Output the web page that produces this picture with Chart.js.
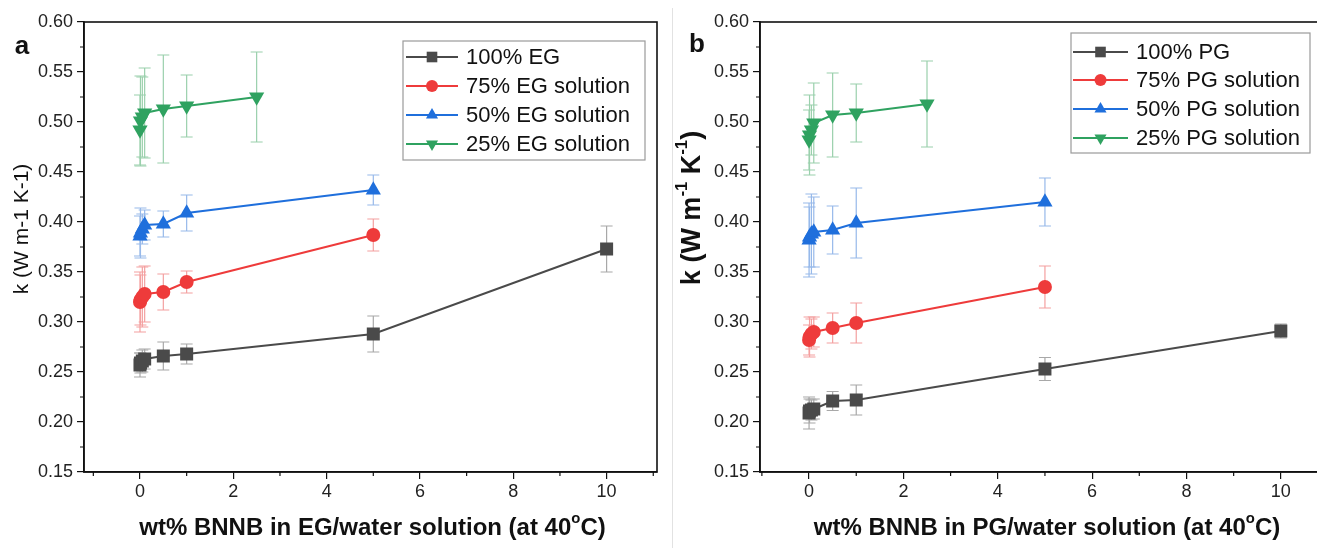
<!DOCTYPE html>
<html><head><meta charset="utf-8">
<script src="https://cdn.jsdelivr.net/npm/chart.js@4/dist/chart.umd.min.js"></script>
<style>
html,body{margin:0;padding:0;background:#fff;overflow:hidden;width:1317px;height:548px;}
#wa{position:absolute;left:0;top:0;width:672px;height:548px;}
#wb{position:absolute;left:672px;top:0;width:672px;height:548px;}
#sep{position:absolute;left:672px;top:8px;width:1px;height:540px;background:#e2e2e2;}
</style></head><body>
<div id="wa"><canvas id="ca" width="672" height="548"></canvas></div>
<div id="wb"><canvas id="cb" width="672" height="548"></canvas></div>
<div id="sep"></div>
<script>
// ---------- DATA ----------
const xTicks = [0, 2, 4, 6, 8, 10];
const yTicks = [0.15, 0.20, 0.25, 0.30, 0.35, 0.40, 0.45, 0.50, 0.55, 0.60];

// Panel a: EG
const xEG100 = [0, 0.01, 0.05, 0.1, 0.5, 1, 5, 10];
const kEG100 = [0.257, 0.259, 0.261, 0.263, 0.266, 0.268, 0.288, 0.373];
const eEG100 = [0.012, 0.010, 0.011, 0.010, 0.014, 0.010, 0.018, 0.023];
const xEG75 = [0, 0.01, 0.05, 0.1, 0.5, 1, 5];
const kEG75 = [0.320, 0.322, 0.325, 0.328, 0.330, 0.340, 0.387];
const eEG75 = [0.030, 0.025, 0.030, 0.028, 0.018, 0.011, 0.016];
const xEG50 = [0, 0.01, 0.05, 0.1, 0.5, 1, 5];
const kEG50 = [0.386, 0.389, 0.393, 0.397, 0.398, 0.409, 0.432];
const eEG50 = [0.020, 0.025, 0.015, 0.015, 0.013, 0.018, 0.015];
const xEG25 = [0, 0.01, 0.05, 0.1, 0.5, 1, 2.5];
const kEG25 = [0.492, 0.501, 0.505, 0.509, 0.513, 0.516, 0.525];
const eEG25 = [0.035, 0.045, 0.040, 0.045, 0.054, 0.031, 0.045];

// Panel b: PG
const xPG100 = [0, 0.01, 0.05, 0.1, 0.5, 1, 5, 10];
const kPG100 = [0.209, 0.211, 0.212, 0.213, 0.221, 0.222, 0.253, 0.291];
const ePG100 = [0.016, 0.012, 0.010, 0.010, 0.0095, 0.015, 0.0115, 0.007];
const xPG75 = [0, 0.01, 0.05, 0.1, 0.5, 1, 5];
const kPG75 = [0.282, 0.285, 0.288, 0.290, 0.294, 0.299, 0.335];
const ePG75 = [0.015, 0.020, 0.015, 0.015, 0.015, 0.020, 0.021];
const xPG50 = [0, 0.01, 0.05, 0.1, 0.5, 1, 5];
const kPG50 = [0.382, 0.385, 0.388, 0.390, 0.392, 0.399, 0.420];
const ePG50 = [0.037, 0.030, 0.040, 0.035, 0.024, 0.035, 0.024];
const xPG25 = [0, 0.01, 0.05, 0.1, 0.5, 1, 2.5];
const kPG25 = [0.482, 0.487, 0.492, 0.499, 0.507, 0.509, 0.518];
const ePG25 = [0.030, 0.040, 0.025, 0.040, 0.042, 0.029, 0.043];

const labelsEG = ['100% EG', '75% EG solution', '50% EG solution', '25% EG solution'];
const labelsPG = ['100% PG', '75% PG solution', '50% PG solution', '25% PG solution'];

// ---------- STYLE ----------
const FONT = '"Liberation Sans", Arial, Helvetica, sans-serif';
const styles = [
  {color:'#4a4a4a', err:'#a8a8a8', style:'rect', radius:9.2, rot:0, lr:7.5},
  {color:'#ee3b3b', err:'#f4a0a0', style:'circle', radius:7, rot:0, lr:6},
  {color:'#1f6fdc', err:'#97b9ea', style:'triangle', radius:8.8, rot:0, lr:7},
  {color:'#2fa260', err:'#9ad0ac', style:'triangle', radius:8.8, rot:180, lr:7}
];

function mkDatasets(xs, ks, es, labels) {
  return xs.map((xv, si) => ({
    label: labels[si],
    data: xv.map((x, i) => ({x: x, y: ks[si][i]})),
    errs: es[si],
    errColor: styles[si].err,
    showLine: true,
    borderColor: styles[si].color,
    backgroundColor: styles[si].color,
    borderWidth: 2,
    pointStyle: styles[si].style,
    pointRadius: styles[si].radius,
    pointHoverRadius: styles[si].radius,
    pointRotation: styles[si].rot,
    pointBorderWidth: 0,
    tension: 0
  }));
}

function drawSegs(ctx, segs, size, bold, cx, cy) {
  const f = (s) => (bold ? 'bold ' : '') + s + 'px ' + FONT;
  let w = 0;
  segs.forEach(s => { ctx.font = f(s.sup ? size * 0.62 : size); s.w = ctx.measureText(s.t).width; w += s.w; });
  let x = cx - w / 2;
  ctx.textBaseline = 'middle';
  ctx.textAlign = 'left';
  segs.forEach(s => {
    ctx.font = f(s.sup ? size * 0.62 : size);
    ctx.fillText(s.t, x, s.sup ? cy - size * 0.38 : cy);
    x += s.w;
  });
}

function makePanel(id, datasets, opt) {
  const deco = {
    id: 'deco',
    beforeDatasetsDraw(chart) {
      const ctx = chart.ctx, xs = chart.scales.x, ys = chart.scales.y;
      ctx.save();
      chart.data.datasets.forEach(ds => {
        ctx.strokeStyle = ds.errColor;
        ctx.lineWidth = 1.2;
        ds.data.forEach((p, i) => {
          const px = xs.getPixelForValue(p.x);
          const y1 = ys.getPixelForValue(p.y + ds.errs[i]);
          const y2 = ys.getPixelForValue(p.y - ds.errs[i]);
          ctx.beginPath();
          ctx.moveTo(px, y1); ctx.lineTo(px, y2);
          ctx.moveTo(px - 6, y1); ctx.lineTo(px + 6, y1);
          ctx.moveTo(px - 6, y2); ctx.lineTo(px + 6, y2);
          ctx.stroke();
        });
      });
      ctx.restore();
    },
    afterDraw(chart) {
      const ctx = chart.ctx, a = chart.chartArea, xs = chart.scales.x, ys = chart.scales.y;
      ctx.save();
      // frame
      ctx.strokeStyle = '#111';
      ctx.lineWidth = 1.6;
      ctx.strokeRect(a.left, a.top, a.right - a.left, a.bottom - a.top);
      // minor ticks
      ctx.lineWidth = 1.2;
      ctx.beginPath();
      for (let v = 0.175; v < 0.6; v += 0.05) {
        const py = ys.getPixelForValue(v);
        ctx.moveTo(a.left - 4, py); ctx.lineTo(a.left, py);
      }
      for (let v = -1; v <= 11; v += 2) {
        if (v < xs.min || v > xs.max) continue;
        const px = xs.getPixelForValue(v);
        ctx.moveTo(px, a.bottom); ctx.lineTo(px, a.bottom + 4);
      }
      ctx.stroke();
      // legend
      const L = opt.legend;
      ctx.fillStyle = '#fff';
      ctx.fillRect(L.x, L.y, L.w, L.h);
      ctx.strokeStyle = '#9a9a9a';
      ctx.lineWidth = 1.2;
      ctx.strokeRect(L.x, L.y, L.w, L.h);
      chart.data.datasets.forEach((ds, i) => {
        const cy = L.rows[i];
        ctx.strokeStyle = styles[i].color;
        ctx.lineWidth = 2;
        ctx.beginPath(); ctx.moveTo(L.lx0, cy); ctx.lineTo(L.lx1, cy); ctx.stroke();
        ctx.fillStyle = styles[i].color;
        Chart.helpers.drawPoint(ctx, {pointStyle: styles[i].style, rotation: styles[i].rot, radius: styles[i].lr, borderWidth: 0}, (L.lx0 + L.lx1) / 2, cy);
        ctx.fillStyle = '#111';
        ctx.font = '22px ' + FONT;
        ctx.textAlign = 'left';
        ctx.textBaseline = 'middle';
        ctx.fillText(ds.label, L.tx, cy + 1);
      });
      // panel letter
      ctx.fillStyle = '#111';
      ctx.font = 'bold 26px ' + FONT;
      ctx.textAlign = 'center';
      ctx.textBaseline = 'middle';
      ctx.fillText(opt.letter.t, opt.letter.x, opt.letter.y);
      // x title
      drawSegs(ctx, opt.xTitle, 24, true, (a.left + a.right) / 2 + opt.xTitleDx, 528);
      // y title
      ctx.save();
      ctx.translate(opt.yTitleX, opt.yTitleY);
      ctx.rotate(-Math.PI / 2);
      drawSegs(ctx, opt.yTitle, opt.yTitleSize, opt.yTitleBold, 0, 0);
      ctx.restore();
      ctx.restore();
    }
  };
  return new Chart(document.getElementById(id), {
    type: 'scatter',
    data: {datasets: datasets},
    plugins: [deco],
    options: {
      responsive: false,
      animation: false,
      events: [],
      layout: {padding: {left: 0, top: 22, right: opt.padRight, bottom: 0}},
      plugins: {legend: {display: false}, tooltip: {enabled: false}},
      scales: {
        x: {
          type: 'linear', min: opt.xmin, max: opt.xmax,
          afterBuildTicks: s => { s.ticks = xTicks.map(v => ({value: v})); },
          afterFit: s => { s.height = 76; },
          grid: {drawOnChartArea: false, drawTicks: true, tickLength: 7, color: '#111', lineWidth: 1.2},
          border: {display: true, color: '#111', width: 1.6},
          ticks: {color: '#222', font: {family: FONT, size: 18}, padding: 2, maxRotation: 0,
                  callback: v => String(v)}
        },
        y: {
          type: 'linear', min: 0.15, max: 0.60,
          afterBuildTicks: s => { s.ticks = yTicks.map(v => ({value: v})); },
          afterFit: s => { s.width = opt.yWidth; },
          grid: {drawOnChartArea: false, drawTicks: true, tickLength: 7, color: '#111', lineWidth: 1.2},
          border: {display: true, color: '#111', width: 1.6},
          ticks: {color: '#222', font: {family: FONT, size: 18}, padding: 4,
                  callback: v => Number(v).toFixed(2)}
        }
      }
    }
  });
}

makePanel('ca',
  mkDatasets([xEG100, xEG75, xEG50, xEG25], [kEG100, kEG75, kEG50, kEG25], [eEG100, eEG75, eEG50, eEG25], labelsEG),
  {
    xmin: -1.2, xmax: 11.08, padRight: 15, yWidth: 84,
    legend: {x: 403, y: 41, w: 242, h: 119, rows: [57, 86, 115, 144], lx0: 406, lx1: 458, tx: 466},
    letter: {t: 'a', x: 22, y: 47},
    xTitle: [{t: 'wt% BNNB in EG/water solution (at 40'}, {t: 'o', sup: true}, {t: 'C)'}],
    xTitleDx: 2,
    yTitle: [{t: 'k (W m-1 K-1)'}], yTitleSize: 21, yTitleBold: false, yTitleX: 22, yTitleY: 229
  });

makePanel('cb',
  mkDatasets([xPG100, xPG75, xPG50, xPG25], [kPG100, kPG75, kPG50, kPG25], [ePG100, ePG75, ePG50, ePG25], labelsPG),
  {
    xmin: -1.04, xmax: 11.0, padRight: 16, yWidth: 88,
    legend: {x: 399, y: 33, w: 239, h: 120, rows: [52, 80, 109, 138], lx0: 401, lx1: 456, tx: 464},
    letter: {t: 'b', x: 25, y: 45},
    xTitle: [{t: 'wt% BNNB in PG/water solution (at 40'}, {t: 'o', sup: true}, {t: 'C)'}],
    xTitleDx: 3,
    yTitle: [{t: 'k (W m'}, {t: '-1', sup: true}, {t: ' K'}, {t: '-1', sup: true}, {t: ')'}],
    yTitleSize: 27, yTitleBold: true, yTitleX: 21, yTitleY: 208
  });
</script>
</body></html>
